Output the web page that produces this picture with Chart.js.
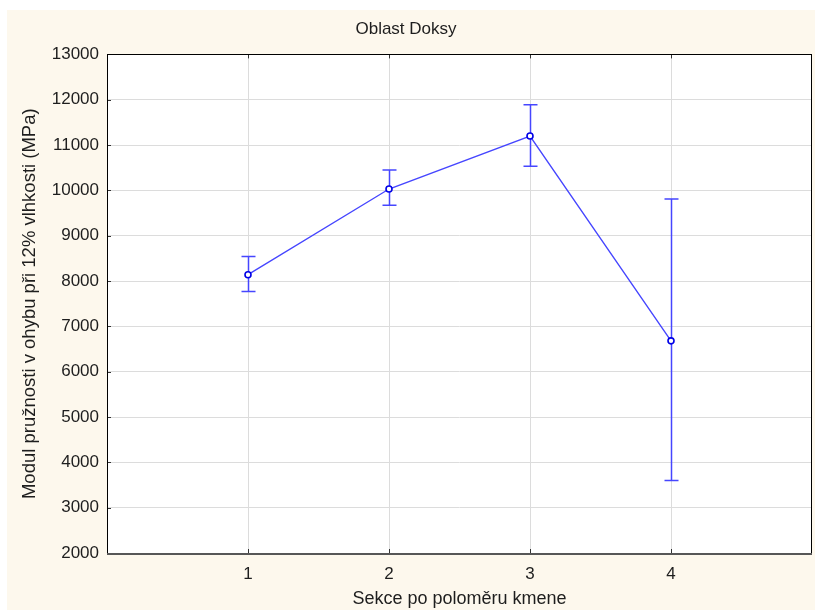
<!DOCTYPE html>
<html>
<head>
<meta charset="utf-8">
<script src="https://cdn.jsdelivr.net/npm/chart.js@4.4.1/dist/chart.umd.min.js"></script>
<style>
  html, body { margin: 0; padding: 0; background: #ffffff; }
  #wrap { width: 815px; height: 610px; }
</style>
</head>
<body>
<div id="wrap"><canvas id="myChart" width="815" height="610"></canvas></div>
<script>
// sekce 1..4, průměr a meze chybových úseček
var sections = [1, 2, 3, 4];
var meanValues = [8140, 10030, 11200, 6680];
var upperValues = [8540, 10450, 11890, 9810];
var lowerValues = [7770, 9670, 10530, 3600];
var yTicks = [2000, 3000, 4000, 5000, 6000, 7000, 8000, 9000, 10000, 11000, 12000, 13000];

var lineBlue = "#4646ff";

Chart.defaults.font.family = "'Liberation Sans', Arial, sans-serif";
Chart.defaults.color = "#1e1e1e";

// podklad a rám grafu
var framePlugin = {
  id: "frame",
  beforeDraw: function (chart) {
    var ctx = chart.ctx;
    var a = chart.chartArea;
    ctx.save();
    ctx.fillStyle = "#ffffff";
    ctx.fillRect(0, 0, chart.width, chart.height);
    ctx.fillStyle = "#fdf8ed";
    ctx.fillRect(7, 10, chart.width - 7, chart.height - 10);
    ctx.fillStyle = "#ffffff";
    ctx.fillRect(a.left, a.top, a.right - a.left, a.bottom - a.top);
    ctx.restore();
  },
  afterDraw: function (chart) {
    var ctx = chart.ctx;
    var a = chart.chartArea;
    var xs = chart.scales.x;
    var ys = chart.scales.y;
    ctx.save();
    // krátké vnitřní značky os
    ctx.strokeStyle = "#333333";
    ctx.lineWidth = 1;
    ctx.beginPath();
    yTicks.forEach(function (v) {
      var py = Math.round(ys.getPixelForValue(v)) + 0.5;
      ctx.moveTo(a.left, py);
      ctx.lineTo(a.left + 4, py);
    });
    sections.forEach(function (v) {
      var px = Math.round(xs.getPixelForValue(v)) + 0.5;
      ctx.moveTo(px, a.bottom);
      ctx.lineTo(px, a.bottom - 4);
      ctx.moveTo(px, a.top);
      ctx.lineTo(px, a.top + 4);
    });
    ctx.stroke();
    ctx.strokeStyle = "#000000";
    ctx.strokeRect(Math.round(a.left) + 0.5, Math.round(a.top) + 0.5,
      Math.round(a.right - a.left) - 1, Math.round(a.bottom - a.top));
    ctx.strokeStyle = "#575757";
    ctx.lineWidth = 2;
    ctx.beginPath();
    ctx.moveTo(a.left, Math.round(a.bottom) + 1);
    ctx.lineTo(a.right, Math.round(a.bottom) + 1);
    ctx.stroke();
    ctx.restore();
  },
};

// chybové úsečky s příčkami
var errorBarPlugin = {
  id: "errorBars",
  beforeDatasetsDraw: function (chart) {
    var ctx = chart.ctx;
    var xs = chart.scales.x;
    var ys = chart.scales.y;
    ctx.save();
    ctx.strokeStyle = lineBlue;
    ctx.lineWidth = 1.5;
    for (var i = 0; i < sections.length; i++) {
      var px = Math.round(xs.getPixelForValue(sections[i])) + 0.5;
      var top = ys.getPixelForValue(upperValues[i]);
      var bot = ys.getPixelForValue(lowerValues[i]);
      ctx.beginPath();
      ctx.moveTo(px, top);
      ctx.lineTo(px, bot);
      ctx.moveTo(px - 7, top);
      ctx.lineTo(px + 7, top);
      ctx.moveTo(px - 7, bot);
      ctx.lineTo(px + 7, bot);
      ctx.stroke();
    }
    ctx.restore();
  },
};

var ctx = document.getElementById("myChart").getContext("2d");
var myChart = new Chart(ctx, {
  type: "scatter",
  data: {
    datasets: [
      {
        data: sections.map(function (s, i) {
          return { x: s, y: meanValues[i] };
        }),
        showLine: true,
        borderColor: lineBlue,
        borderWidth: 1.4,
        pointRadius: 3,
        pointBorderWidth: 1.6,
        pointBorderColor: "#0000e6",
        pointBackgroundColor: "#ffffff",
      },
    ],
  },
  plugins: [framePlugin, errorBarPlugin],
  options: {
    responsive: false,
    animation: false,
    layout: { autoPadding: false, padding: { left: 0, right: 3, top: 0, bottom: 0 } },
    plugins: {
      legend: { display: false },
      tooltip: { enabled: false },
      title: {
        display: true,
        text: "Oblast Doksy",
        color: "#1e1e1e",
        font: { size: 17, weight: "normal" },
        padding: { top: 19, bottom: 15 },
      },
    },
    scales: {
      x: {
        type: "linear",
        min: 0,
        max: 5,
        afterBuildTicks: function (scale) {
          scale.ticks = sections.map(function (v) {
            return { value: v };
          });
        },
        afterFit: function (scale) {
          scale.height = 57;
          scale.paddingLeft = 0;
          scale.paddingRight = 0;
        },
        grid: { color: "#dcdcdc", drawTicks: false },
        border: { display: false },
        ticks: { font: { size: 17 }, padding: 11 },
        title: {
          display: true,
          text: "Sekce po poloměru kmene",
          font: { size: 18 },
          padding: { top: 0, bottom: 0 },
        },
      },
      y: {
        type: "linear",
        min: 2000,
        max: 13000,
        afterBuildTicks: function (scale) {
          scale.ticks = yTicks.map(function (v) {
            return { value: v };
          });
        },
        afterFit: function (scale) {
          scale.width = 107;
          scale.paddingTop = 0;
          scale.paddingBottom = 0;
        },
        grid: { color: "#dcdcdc", drawTicks: false },
        border: { display: false },
        ticks: {
          font: { size: 17 },
          padding: 8,
          callback: function (v) {
            return String(v);
          },
        },
        title: {
          display: true,
          text: "Modul pružnosti v ohybu při 12% vlhkosti (MPa)",
          font: { size: 18.5 },
          padding: { top: 19, bottom: 0 },
        },
      },
    },
  },
});
</script>
</body>
</html>
